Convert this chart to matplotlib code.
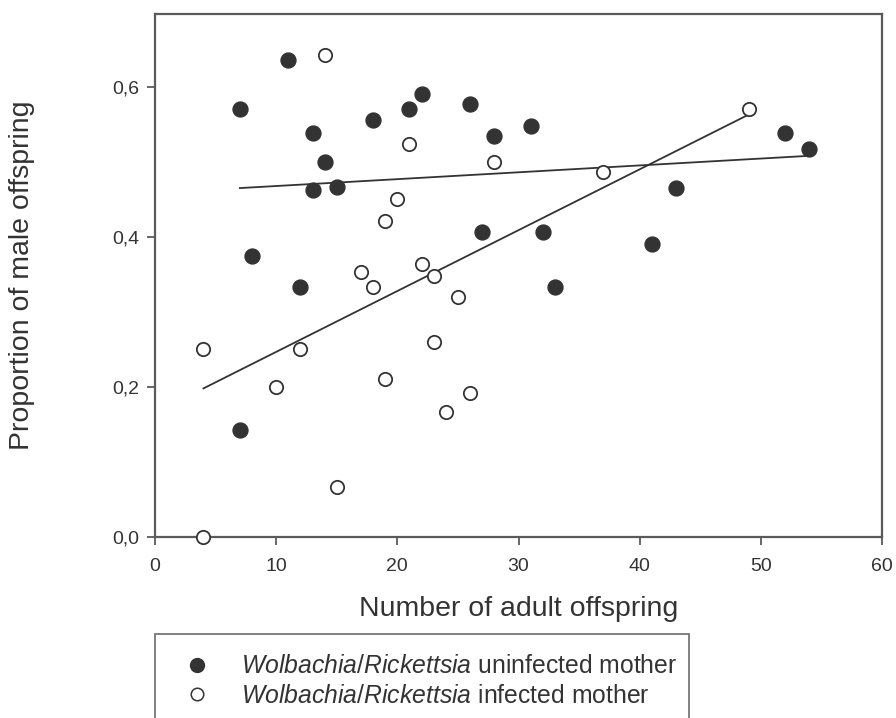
import matplotlib
matplotlib.use("Agg")
import matplotlib.pyplot as plt
from matplotlib.patches import Rectangle
from matplotlib.lines import Line2D
import numpy as np

plt.rcParams['font.family'] = ['Liberation Sans', 'DejaVu Sans']
plt.rcParams['mathtext.fontset'] = 'custom'
plt.rcParams['mathtext.rm'] = 'Liberation Sans'
plt.rcParams['mathtext.it'] = 'Liberation Sans:italic'

# uninfected mothers (filled)
unif_n = [7, 7, 8, 11, 12, 13, 13, 14, 15, 18, 21, 22, 26, 27, 28, 31, 32, 33, 41, 43, 52, 54]
unif_p = [0.571, 0.143, 0.375, 0.636, 0.333, 0.538, 0.462, 0.500, 0.467, 0.556, 0.571,
          0.590, 0.577, 0.407, 0.535, 0.548, 0.406, 0.333, 0.390, 0.465, 0.538, 0.517]

# infected mothers (open)
inf_n = [4, 4, 10, 12, 14, 15, 17, 18, 19, 19, 20, 21, 22, 23, 23, 24, 25, 26, 28, 37, 49]
inf_p = [0.250, 0.000, 0.200, 0.250, 0.643, 0.067, 0.353, 0.333, 0.421, 0.210, 0.450,
         0.524, 0.364, 0.348, 0.260, 0.167, 0.320, 0.192, 0.500, 0.486, 0.571]

# regression lines (intercept, slope)
fit_unif = (0.4586, 0.000915)
fit_inf = (0.1656, 0.00811)

xticks = [0, 10, 20, 30, 40, 50, 60]
yticks = [0.0, 0.2, 0.4, 0.6]
ytick_labels = ['0,0', '0,2', '0,4', '0,6']

dark = '#333333'
spine_col = '#5a5a5a'

fig = plt.figure(figsize=(8.96, 7.18), dpi=100)
ax = fig.add_axes([155/896, 1 - 537/718, 727/896, 523/718])

# each fit drawn over its group's range of x
for xs, (b, k) in [(unif_n, fit_unif), (inf_n, fit_inf)]:
    xx = np.array([min(xs), max(xs)])
    ax.plot(xx, b + k * xx, color=dark, lw=1.3, zorder=2)

ax.scatter(unif_n, unif_p, s=115, color=dark, edgecolor=dark, linewidth=1, zorder=3, clip_on=False)
ax.scatter(inf_n, inf_p, s=92, facecolor='white', edgecolor=dark, linewidth=1.3, zorder=3, clip_on=False)

ax.set_xlim(0, 60)
ax.set_ylim(0, 0.697)
ax.set_xticks(xticks)
ax.set_yticks(yticks)
ax.set_yticklabels(ytick_labels)
for s in ax.spines.values():
    s.set_color(spine_col)
    s.set_linewidth(1.6)
ax.tick_params(direction='out', length=6, width=1.3, color=spine_col, labelsize=14,
               labelcolor='#333333', pad=5)
ax.tick_params(axis='x', pad=9)

ax.set_xlabel('Number of adult offspring', fontsize=20.5, color='#333333')
ax.set_ylabel('Proportion of male offspring', fontsize=20.5, color='#333333')
ax.xaxis.set_label_coords(0.5, -0.113)
ax.yaxis.set_label_coords(-0.183, 0.5)
ax.yaxis.label.set_va('center')

# legend box, open at the bottom edge of the figure
fig.patches.append(Rectangle((155/896, -0.05), 534/896, 0.05 + (718 - 634)/718,
                             transform=fig.transFigure, fill=False,
                             edgecolor='#777777', linewidth=1.3))
handles = [
    Line2D([], [], ls='none', marker='o', ms=10, color=dark),
    Line2D([], [], ls='none', marker='o', ms=9, mfc='white', mec=dark, mew=1.1),
]
labels = [r'$\it{Wolbachia/Rickettsia}$ uninfected mother',
          r'$\it{Wolbachia/Rickettsia}$ infected mother']
fig.legend(handles, labels, loc='upper left', bbox_to_anchor=(172/896, 1 - 642/718),
           frameon=False, fontsize=17.8, labelcolor='#333333', handletextpad=1.3,
           labelspacing=0.22, borderpad=0, handlelength=1.0)

fig.savefig('out.png', dpi=100)
